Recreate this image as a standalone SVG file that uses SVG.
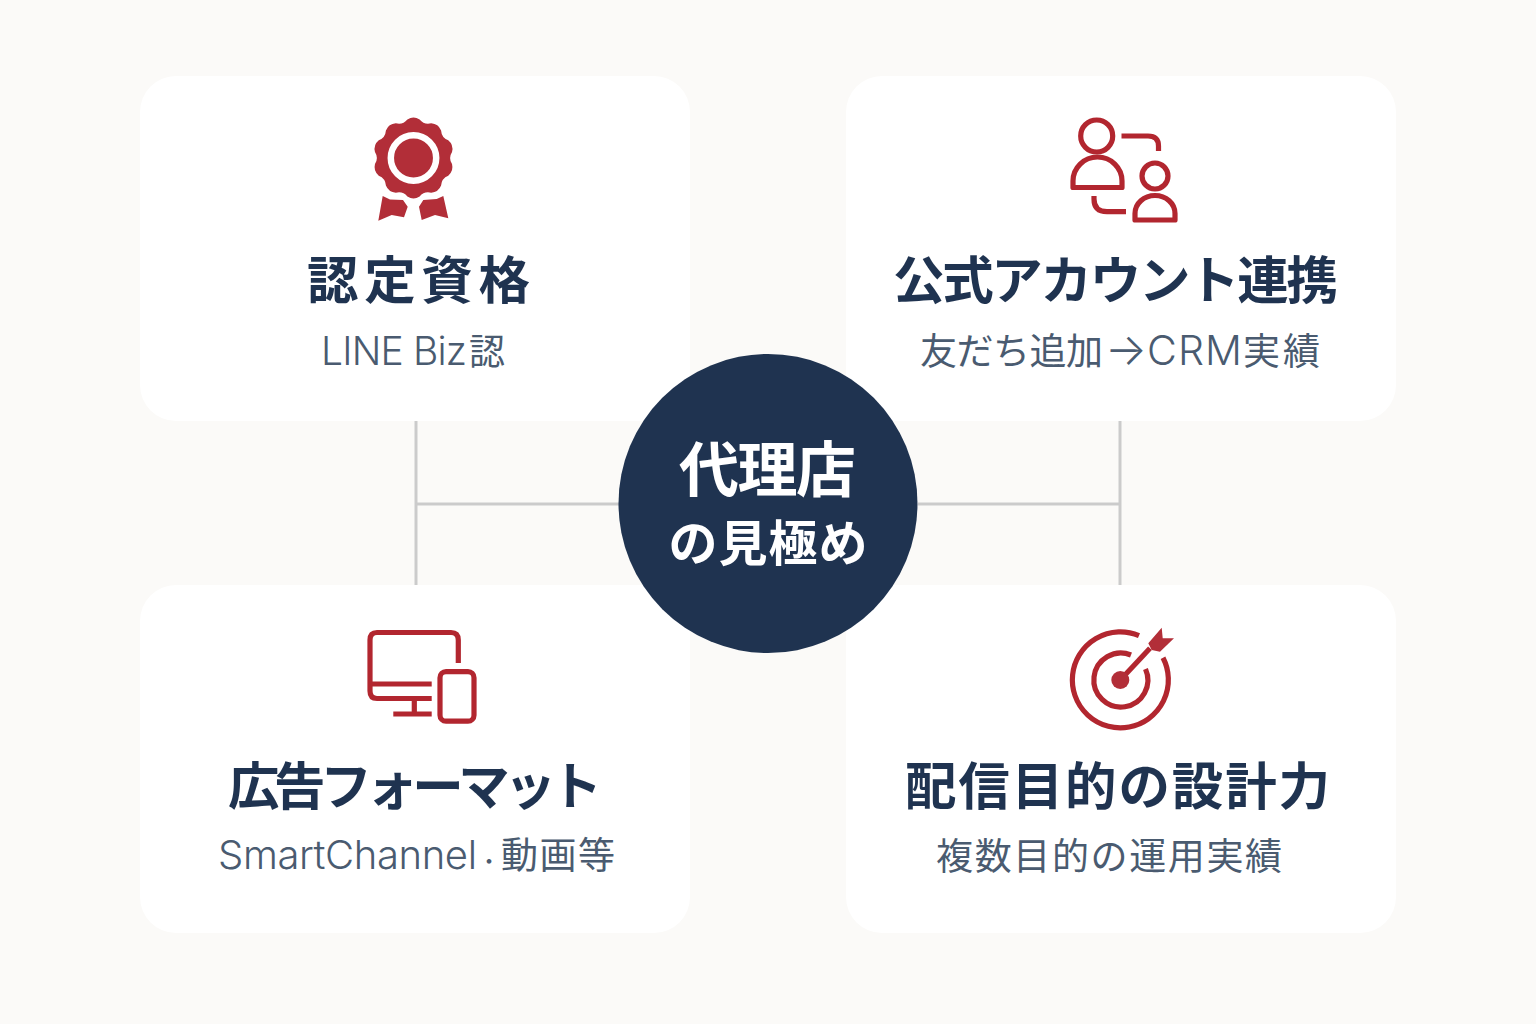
<svg xmlns="http://www.w3.org/2000/svg" width="1536" height="1024" viewBox="0 0 1536 1024">
<style>
.card{fill:#fff}
.t{font-family:"Noto Sans CJK JP","Noto Sans",sans-serif;text-anchor:middle}
.h{font-size:51.5px;font-weight:700;fill:#1f3350}
.s{font-size:37px;font-weight:400;fill:#4a5b70}
.s tspan{text-anchor:start}
.la{font-family:Inter,"Noto Sans",sans-serif;font-weight:300}
.c{fill:#fff;font-weight:700}
.i{fill:none;stroke:#b2262f;stroke-width:5.2;stroke-linecap:butt;stroke-linejoin:round}
.f{fill:#b22e38}
.l{fill:none;stroke:#cbcbcb;stroke-width:3}
</style>
<rect width="1536" height="1024" fill="#fbfaf8"/>
<g id="connectors">
<path class="l" d="M416 421V585M1120 421V585M416 504H620M918 504H1120"/>
</g>
<g id="node-cert">
<rect class="card" x="140" y="76" width="550" height="345" rx="36"/>
<path class="f" transform="translate(413.5 158) scale(1.04)" d="M-5.87 -37.04A11 11 0 0 1 5.87 -37.04A11 11 0 0 0 17.03 -33.41A11 11 0 0 1 26.52 -26.52A11 11 0 0 0 33.41 -17.03A11 11 0 0 1 37.04 -5.87A11 11 0 0 0 37.04 5.87A11 11 0 0 1 33.41 17.03A11 11 0 0 0 26.52 26.52A11 11 0 0 1 17.03 33.41A11 11 0 0 0 5.87 37.04A11 11 0 0 1 -5.87 37.04A11 11 0 0 0 -17.03 33.41A11 11 0 0 1 -26.52 26.52A11 11 0 0 0 -33.41 17.03A11 11 0 0 1 -37.04 5.87A11 11 0 0 0 -37.04 -5.87A11 11 0 0 1 -33.41 -17.03A11 11 0 0 0 -26.52 -26.52A11 11 0 0 1 -17.03 -33.41A11 11 0 0 0 -5.87 -37.04Z"/>
<circle cx="413.5" cy="158" r="22.7" fill="none" stroke="#fff" stroke-width="6.5"/>
<path class="f" d="M382.7 196L390 199.5L403 200L407.7 206.7L404 217.3L391.7 215L378.3 220.7ZM443.3 196L436.7 199L423.3 200L419 206.7L421.7 220L435 215L448.3 218.3Z"/>
<text class="t h" x="418.5" y="299" textLength="223">認定資格</text>
<text class="t s" y="365"><tspan class="la" x="321" font-size="39" textLength="146">LINE Biz</tspan><tspan x="469" font-size="36">認</tspan></text>
</g>
<g id="node-account">
<rect class="card" x="846" y="76" width="550" height="345" rx="36"/>
<g class="i">
<circle cx="1096.7" cy="136" r="16"/>
<path d="M1073 187.5H1122V181A24.5 24 0 0 0 1073 181Z"/>
<path d="M1121.5 136H1148Q1158.5 136 1158.5 146V151"/>
<circle cx="1155" cy="176" r="13"/>
<path d="M1135 220H1175V213.5A20 18 0 0 0 1135 213.5Z"/>
<path d="M1094 196V199Q1094 211.7 1107 211.7H1126"/>
</g>
<text class="t h" x="1115.5" y="299" textLength="445">公式アカウント連携</text>
<text class="t s" y="365"><tspan x="920" textLength="183">友だち追加</tspan><tspan class="la" x="1105" font-size="44">→</tspan><tspan class="la" x="1147" font-size="41" textLength="95">CRM</tspan><tspan x="1243" textLength="77">実績</tspan></text>
</g>
<g id="node-format">
<rect class="card" x="140" y="585" width="550" height="348" rx="36"/>
<g class="i">
<path d="M458.3 663V640Q458.3 632.5 451 632.5H377Q370 632.5 370 640V691Q370 698.5 377 698.5H431.7M370 684H431.7M414.3 698V714M393.3 714H431.7"/>
<rect x="440" y="671.7" width="34" height="49.5" rx="6"/>
</g>
<text class="t h" x="415" y="805" textLength="374">広告フォーマット</text>
<text class="t s" y="869"><tspan class="la" x="218" font-size="40" textLength="259">SmartChannel</tspan><tspan x="478" font-size="22">・</tspan><tspan x="501" textLength="114">動画等</tspan></text>
</g>
<g id="node-target">
<rect class="card" x="846" y="585" width="550" height="348" rx="36"/>
<g class="i">
<path d="M1139 635.6A48 48 0 1 0 1163 657.8"/>
<path d="M1131 655A27 27 0 1 0 1145.5 669"/>
<path d="M1120.3 680L1150 648.3"/>
</g>
<circle class="f" cx="1120.3" cy="680" r="9"/>
<path class="f" d="M1148.3 643.3L1161.7 627.7L1162.7 638.3L1174 638.3L1160 651.7L1151.7 650Z"/>
<text class="t h" x="1117.5" y="805" textLength="425">配信目的の設計力</text>
<text class="t s" x="1109" y="870" textLength="346">複数目的の運用実績</text>
</g>
<g id="node-center">
<circle cx="768" cy="503.5" r="149.5" fill="#1f3350"/>
<text class="t c" x="767.5" y="492" font-size="60" textLength="177">代理店</text>
<text class="t c" x="768" y="561" font-size="49" textLength="199">の見極め</text>
</g>
</svg>
